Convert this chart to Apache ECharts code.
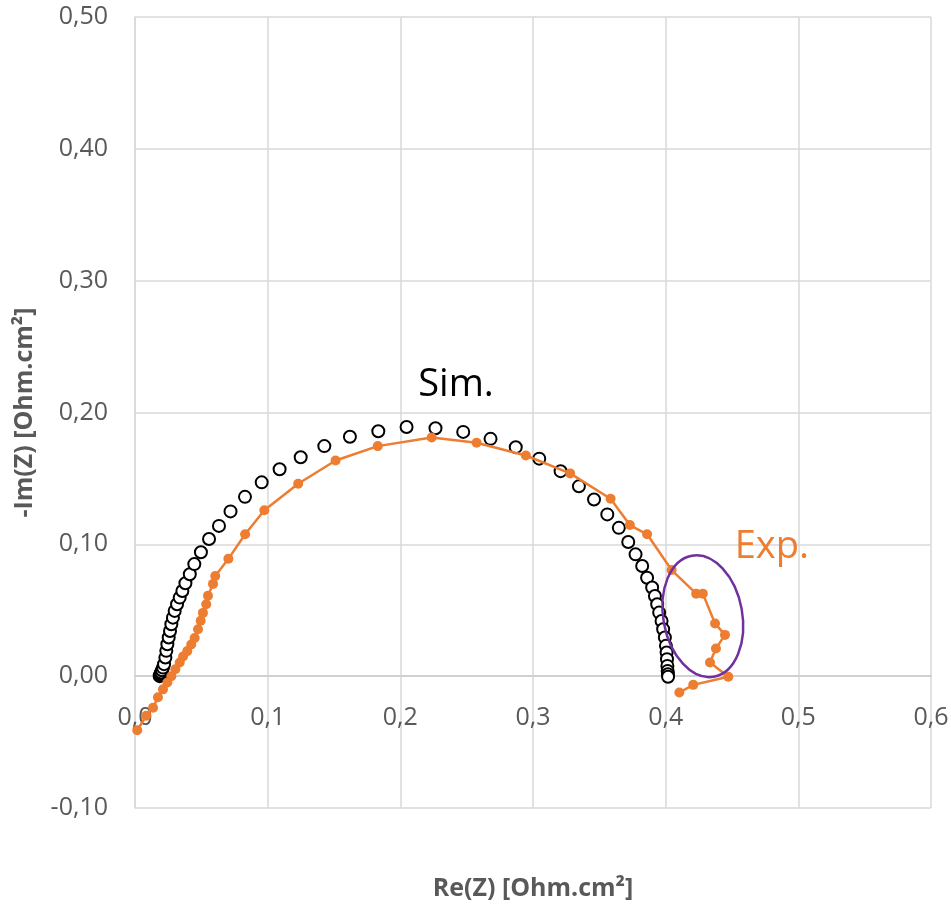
<!DOCTYPE html>
<html>
<head>
<meta charset="utf-8">
<script src="https://cdn.jsdelivr.net/npm/echarts@6/dist/echarts.min.js"></script>
<style>html,body{margin:0;padding:0;background:#fff;}#c{width:951px;height:908px;}</style>
</head>
<body>
<div id="c"></div>
<script>
// Simulated impedance (open circles)
const simRe = [0.0186,0.0189,0.0192,0.0195,0.0198,0.0204,0.0211,0.0219,0.0229,0.0236,0.0244,0.0254,0.0264,0.0274,0.0286,0.0299,0.0317,0.0337,0.0357,0.038,0.0413,0.0447,0.0497,0.0558,0.0633,0.072,0.0829,0.0955,0.109,0.1249,0.1427,0.162,0.1834,0.2047,0.2265,0.2474,0.268,0.287,0.3047,0.3208,0.3346,0.346,0.356,0.3647,0.3718,0.3773,0.3823,0.386,0.3898,0.3919,0.3936,0.3951,0.3969,0.3981,0.3994,0.4002,0.4007,0.401,0.4013,0.4015,0.4017,0.4018];
const simIm = [0.0,0.0008,0.0016,0.0022,0.0028,0.0045,0.0065,0.0091,0.0141,0.0192,0.0242,0.0293,0.0343,0.0394,0.0444,0.0495,0.0545,0.0596,0.0646,0.0705,0.0773,0.085,0.094,0.104,0.114,0.125,0.136,0.147,0.157,0.166,0.1745,0.1816,0.1858,0.189,0.188,0.1853,0.180,0.1737,0.165,0.1555,0.144,0.134,0.1227,0.1125,0.1018,0.0924,0.0836,0.0747,0.0672,0.0608,0.0545,0.0482,0.0419,0.0356,0.0293,0.023,0.018,0.0129,0.0078,0.004,0.0015,-0.0005];
// Experimental impedance (orange line + dots)
const expRe = [0.0017,0.0085,0.0136,0.0173,0.0211,0.0244,0.0274,0.0304,0.0337,0.0362,0.0394,0.0424,0.045,0.0475,0.0495,0.0512,0.0537,0.055,0.0588,0.0605,0.0704,0.083,0.0975,0.123,0.1512,0.183,0.2236,0.2575,0.2946,0.328,0.3585,0.373,0.386,0.4045,0.423,0.428,0.4372,0.4447,0.4379,0.4334,0.4472,0.4208,0.4103];
const expIm = [-0.041,-0.030,-0.024,-0.016,-0.010,-0.0048,0.0,0.0053,0.0104,0.0149,0.019,0.024,0.029,0.0356,0.042,0.048,0.0545,0.061,0.070,0.076,0.089,0.1076,0.1258,0.146,0.1636,0.1745,0.181,0.177,0.1674,0.1538,0.1346,0.1146,0.1076,0.0805,0.0626,0.0626,0.040,0.0313,0.021,0.0104,-0.0005,-0.0066,-0.0124];
// Axis ticks
const xTicks = [0.0,0.1,0.2,0.3,0.4,0.5,0.6];
const yTicks = [-0.10,0.00,0.10,0.20,0.30,0.40,0.50];
// Annotations (data coordinates)
const simLabel = {text:'Sim.', re:0.242, im:0.2205};
const expLabel = {text:'Exp.', re:0.480, im:0.0977};
const ellipseCenter = {re:0.428, im:0.0455};

const FONT = '"Open Sans", sans-serif';
const GRAY = '#595959';
const chart = echarts.init(document.getElementById('c'), null, {renderer:'canvas'});
const pair = (xs, ys) => xs.map((x, i) => [x, ys[i]]);

chart.setOption({
  animation: false,
  backgroundColor: '#fff',
  grid: {left: 135, right: 20, top: 17, bottom: 100, containLabel: false, outerBoundsMode: 'none'},
  xAxis: {
    type: 'value', min: xTicks[0], max: xTicks[xTicks.length-1], interval: 0.1,
    axisLine: {show: true, onZero: false, lineStyle: {color: '#d0d0d0', width: 2}},
    axisTick: {show: false},
    splitLine: {show: true, lineStyle: {color: '#d9d9d9', width: 1.5}},
    axisLabel: {color: GRAY, fontFamily: FONT, fontSize: 25, margin: 29,
      showMinLabel: true, showMaxLabel: true,
      formatter: v => v.toFixed(1).replace('.', ',')},
    name: 'Re(Z) [Ohm.cm²]', nameLocation: 'middle', nameGap: 200,
    nameTextStyle: {color: GRAY, fontFamily: FONT, fontSize: 25, fontWeight: 'bold'}
  },
  yAxis: {
    type: 'value', min: yTicks[0], max: yTicks[yTicks.length-1], interval: 0.1,
    axisLine: {show: true, onZero: false, lineStyle: {color: '#d9d9d9', width: 1.5}},
    axisTick: {show: false},
    splitLine: {show: true, lineStyle: {color: '#d9d9d9', width: 1.5}},
    axisLabel: {color: GRAY, fontFamily: FONT, fontSize: 25, margin: 27,
      showMinLabel: true, showMaxLabel: true,
      formatter: v => v.toFixed(2).replace('.', ',')},
    name: '-Im(Z) [Ohm.cm²]', nameLocation: 'middle', nameGap: 98, nameRotate: 90,
    nameTextStyle: {color: GRAY, fontFamily: FONT, fontSize: 25, fontWeight: 'bold'}
  },
  series: [
    {
      name: 'Sim.', type: 'scatter', data: pair(simRe, simIm),
      symbol: 'circle', symbolSize: 12,
      itemStyle: {color: '#fff', borderColor: '#000', borderWidth: 2, opacity: 1},
      z: 2
    },
    {
      name: 'Exp.', type: 'line', data: pair(expRe, expIm),
      symbol: 'circle', symbolSize: 10, showAllSymbol: true,
      lineStyle: {color: '#ED7D31', width: 2.5},
      itemStyle: {color: '#ED7D31', borderColor: '#ED7D31', borderWidth: 0},
      z: 3
    }
  ]
});

function placeAnnotations() {
  // move the x axis (line + labels) up to Im = 0, like the reference
  const zeroY = chart.convertToPixel({gridIndex: 0}, [0, 0])[1];
  const bottomY = chart.convertToPixel({gridIndex: 0}, [0, yTicks[0]])[1];
  chart.setOption({xAxis: {offset: zeroY - bottomY}});
  const s = chart.convertToPixel({gridIndex: 0}, [simLabel.re, simLabel.im]);
  const e = chart.convertToPixel({gridIndex: 0}, [expLabel.re, expLabel.im]);
  const c = chart.convertToPixel({gridIndex: 0}, [ellipseCenter.re, ellipseCenter.im]);
  chart.setOption({
    graphic: [
      {type: 'text', x: s[0], y: s[1], z: 10,
        style: {text: simLabel.text, fill: '#000', font: '38px "Open Sans", sans-serif', textAlign: 'center', textVerticalAlign: 'middle'}},
      {type: 'text', x: e[0], y: e[1], z: 10,
        style: {text: expLabel.text, fill: '#ED7D31', font: '38px "Open Sans", sans-serif', textAlign: 'center', textVerticalAlign: 'middle'}},
      {type: 'ellipse', x: c[0], y: c[1], rotation: 0.18, z: 10,
        shape: {cx: 0, cy: 0, rx: 39.5, ry: 61.5},
        style: {fill: 'none', stroke: '#7030A0', lineWidth: 2.5}}
    ]
  });
}
placeAnnotations();
</script>
</body>
</html>
